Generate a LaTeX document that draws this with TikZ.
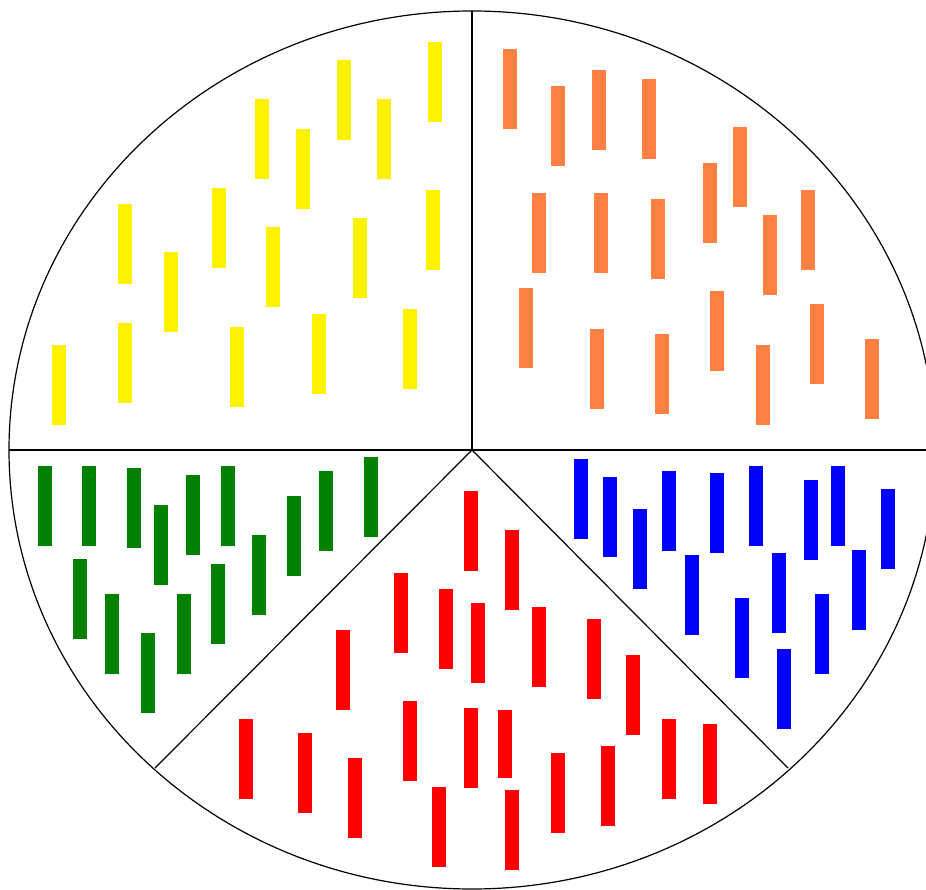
\documentclass[tikz,border=0pt]{standalone}
\definecolor{barorange}{RGB}{255,128,64}
\definecolor{bargreen}{RGB}{0,128,0}
\begin{document}
\begin{tikzpicture}[x=1pt,y=-1pt,
  outline/.style={draw=black,line width=1.2pt},
  barshape/.style={draw=none}]
\useasboundingbox (0,0) rectangle (926,890);
\clip (0,0) rectangle (926,890);
\fill[white] (0,0) rectangle (926,890);
% yellow
\foreach \x/\y in {428/42,337/60,377/99,255/99,296/129,212/188,118/204,266/227,353/218,426/190,164/252,52/345,118/323,230/327,312/314,403/309}
  \fill[yellow] (\x,\y) rectangle ++(14,80);
% orange
\foreach \x/\y in {503/49,551/86,592/70,642/79,733/127,703/163,532/193,594/193,651/199,763/215,801/190,519/288,590/329,655/334,710/291,756/345,810/304,865/339}
  \fill[barorange] (\x,\y) rectangle ++(14,80);
% green
\foreach \x/\y in {38/466,82/466,127/468,154/505,186/475,221/466,252/535,287/496,319/471,364/457,73/559,105/594,141/633,177/594,211/564}
  \fill[bargreen] (\x,\y) rectangle ++(14,80);
% blue
\foreach \x/\y in {574/459,603/477,633/509,662/471,710/473,749/466,804/480,831/466,881/489,685/555,772/553,852/550,735/598,815/594,777/649}
  \fill[blue] (\x,\y) rectangle ++(14,80);
% red
\foreach \x/\y in {464/491,505/530,394/573,439/589,471/603,532/607,587/619,626/655,336/630,403/701,464/708,239/719,298/733,348/758,432/787,505/790,551/753,601/746,662/719,703/724}
  \fill[red] (\x,\y) rectangle ++(14,80);
\fill[red] (498,710) rectangle ++(14,68);
% outline
\coordinate (c) at (472,450);
\draw[outline] (c) ellipse [x radius=463, y radius=439];
\draw[outline] (472,11) -- (c);
\draw[outline] (9,450) -- (935,450);
\draw[outline] (c) -- (155,768);
\draw[outline] (c) -- (788,768);
\end{tikzpicture}
\end{document}
